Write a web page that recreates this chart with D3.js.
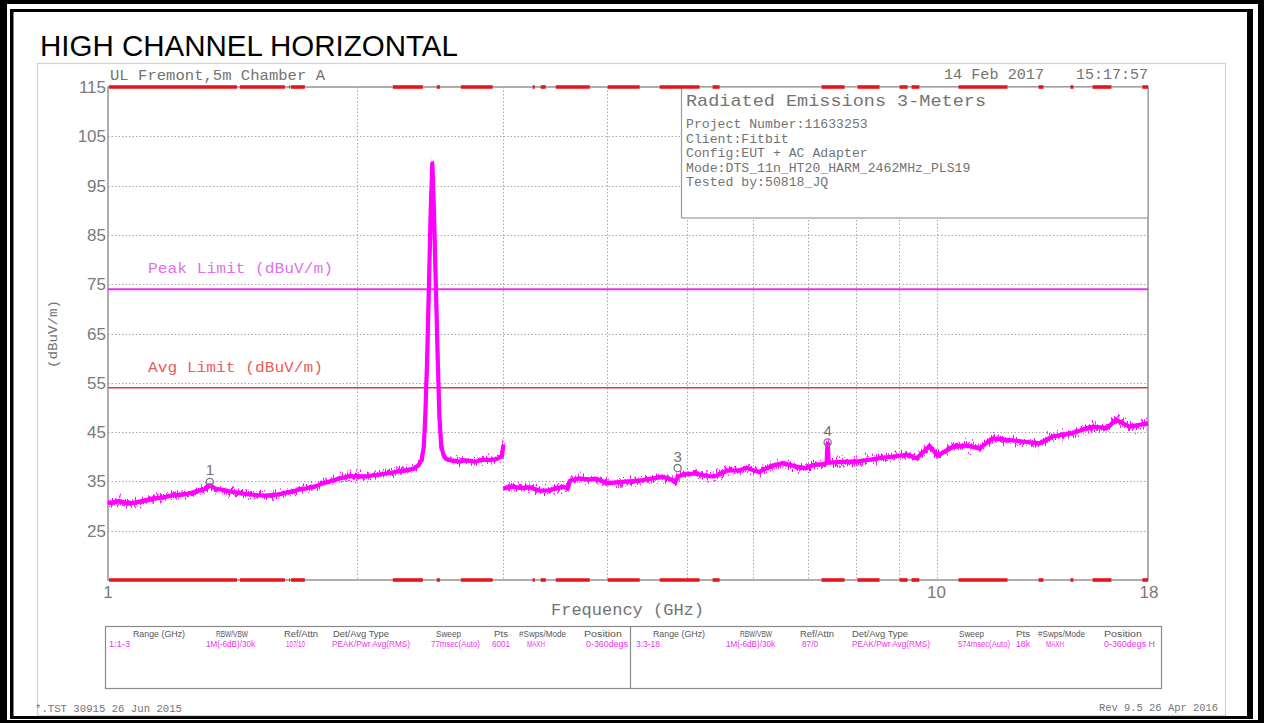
<!DOCTYPE html>
<html>
<head>
<meta charset="utf-8">
<script src="https://cdn.jsdelivr.net/npm/d3@7"></script>
<style>
  html, body { margin: 0; padding: 0; background: #fff; }
  svg { display: block; }
</style>
</head>
<body>
<svg id="chart" width="1264" height="723"></svg>
<script>
// ---- Labels ----
const titleText = "HIGH CHANNEL HORIZONTAL";
const siteLabel = "UL Fremont,5m Chamber A";
const dateLabel = "14 Feb 2017";
const timeLabel = "15:17:57";
const yAxisLabel = "(dBuV/m)";
const xAxisLabel = "Frequency (GHz)";
const footerLeft = "*.TST 30915 26 Jun 2015";
const footerRight = "Rev 9.5 26 Apr 2016";

// ---- Axes ----
const yTicks = [115, 105, 95, 85, 75, 65, 55, 45, 35, 25];
const yGrid = [105, 95, 85, 75, 65, 55, 45, 35, 25];
const xTickLabels = [1, 10, 18];
const xGrid = [2, 3, 4, 5, 6, 7, 8, 9, 10];

// ---- Limits (dBuV/m) ----
const peakLimit = 74;
const avgLimit = 54;
const peakLimitLabel = "Peak Limit (dBuV/m)";
const avgLimitLabel = "Avg Limit (dBuV/m)";

// ---- Sweep 1: 1-3 GHz (freq GHz, level dBuV/m) ----
const lowFreq = [1.000, 1.006, 1.03, 1.06, 1.093, 1.12, 1.146, 1.17, 1.198, 1.23, 1.256, 1.29, 1.31, 1.327,
  1.35, 1.376, 1.41, 1.443, 1.48, 1.512, 1.55, 1.581, 1.62, 1.658, 1.70, 1.738, 1.78, 1.817, 1.86, 1.905,
  1.95, 1.997, 2.04, 2.088, 2.14, 2.189, 2.24, 2.295, 2.34, 2.372, 2.392, 2.405, 2.415, 2.428, 2.440, 2.452,
  2.463, 2.474, 2.487, 2.500, 2.512, 2.525, 2.545, 2.565, 2.60, 2.658, 2.70, 2.772, 2.83, 2.889, 2.95, 2.99, 3.0];
const lowLevel = [30.8, 30.6, 31.0, 30.5, 30.9, 31.3, 31.6, 31.8, 32.2, 32.3, 32.6, 33.2, 33.4, 34.2,
  33.5, 33.3, 32.9, 32.6, 32.4, 32.2, 32.1, 32.2, 32.5, 32.9, 33.3, 33.6, 34.0, 34.6, 35.1, 35.6,
  36.0, 36.1, 36.0, 36.2, 36.5, 36.7, 37.0, 37.3, 37.6, 38.3, 39.5, 42.0, 48.0, 60.0, 75.0, 90.0,
  99.5, 90.0, 75.0, 60.0, 48.0, 42.0, 40.0, 39.5, 39.2, 39.0, 39.3, 39.0, 39.4, 39.3, 39.6, 40.2, 42.4];

// ---- Sweep 2: 3-18 GHz ----
const highFreq = [3.0, 3.012, 3.07, 3.141, 3.228, 3.319, 3.40, 3.480, 3.54, 3.589, 3.61, 3.629, 3.70, 3.80,
  3.890, 3.96, 3.999, 4.10, 4.262, 4.40, 4.544, 4.68, 4.802, 4.84, 4.870, 4.993, 5.12, 5.25, 5.368, 5.45,
  5.581, 5.787, 5.900, 6.114, 6.168, 6.35, 6.520, 6.778, 6.968, 7.084, 7.30, 7.368, 7.385, 7.395, 7.41,
  7.789, 8.008, 8.30, 8.537, 8.90, 9.201, 9.460, 9.65, 9.808, 10.03, 10.45, 10.85, 11.27, 11.68, 12.20,
  12.70, 13.31, 13.80, 14.59, 15.43, 16.04, 16.49, 17.09, 17.58, 18.0];
const highLevel = [33.5, 33.6, 34.0, 33.7, 33.8, 33.1, 33.2, 33.6, 33.9, 33.6, 35.1, 35.3, 35.6, 35.4,
  35.5, 35.0, 34.6, 34.8, 35.0, 35.2, 35.6, 35.9, 35.3, 34.8, 36.0, 36.5, 36.6, 36.2, 36.0, 36.3,
  37.2, 37.3, 37.7, 36.9, 37.3, 38.2, 38.7, 38.0, 37.7, 38.3, 38.5, 38.7, 42.6, 42.6, 38.8,
  39.0, 39.0, 39.4, 39.7, 40.1, 40.4, 39.7, 41.0, 42.2, 40.2, 42.0, 42.3, 41.7, 43.7, 43.4,
  43.1, 42.7, 44.1, 44.8, 46.1, 45.8, 47.5, 46.1, 46.5, 46.8];

// ---- Markers ----
const markerIds = ["1", "3", "4"];
const markerFreq = [1.327, 4.870, 7.389];
const markerLevel = [34.9, 37.7, 42.9];

// ---- Sweep segment bars along the top and bottom edges (GHz) ----
const sweepBandStart = [1.003, 1.443, 1.654, 1.663, 2.207, 2.494, 2.666, 3.256, 3.329, 3.471, 4.010, 4.633,
  5.367, 7.265, 8.029, 9.024, 9.329, 10.63, 13.28, 14.51, 15.43, 17.72];
const sweepBandEnd = [1.431, 1.635, 1.658, 1.728, 2.399, 2.515, 2.913, 3.274, 3.376, 3.815, 4.383, 5.177,
  5.473, 7.745, 8.535, 9.227, 9.534, 12.18, 13.46, 14.63, 16.26, 18.0];

// ---- Info box ----
const infoTitle = "Radiated Emissions 3-Meters";
const infoLines = ["Project Number:11633253", "Client:Fitbit", "Config:EUT + AC Adapter",
  "Mode:DTS_11n_HT20_HARM_2462MHz_PLS19", "Tested by:50818_JQ"];

// ---- Settings table ----
const tableHeaders = ["Range (GHz)", "RBW/VBW", "Ref/Attn", "Det/Avg Type", "Sweep", "Pts", "#Swps/Mode", "Position"];
const tableRowA = ["1:1-3", "1M(-6dB)/30k", "107/10", "PEAK/Pwr Avg(RMS)", "77msec(Auto)", "6001", "MAXH", "0-360degs"];
const tableRowB = ["3:3-18", "1M(-6dB)/30k", "87/0", "PEAK/Pwr Avg(RMS)", "574msec(Auto)", "18k", "MAXH", "0-360degs H"];

// =================== drawing ===================
const svg = d3.select("#chart");
const HP = "'Liberation Mono', 'DejaVu Sans Mono', monospace";
const SANS = "'Liberation Sans', Arial, sans-serif";
const GREY = "#737373";

const x = d3.scaleLog().domain([1, 18]).range([108, 1148]);
const y = d3.scaleLinear().domain([15, 115]).range([580, 87]);

// Noise texture for the swept trace (vertical jitter only)
const defs = svg.append("defs");
function jitterFilter(id, freq, seed, scale) {
  const f = defs.append("filter").attr("id", id)
    .attr("filterUnits", "userSpaceOnUse")
    .attr("x", 100).attr("y", 80).attr("width", 1060).attr("height", 510);
  f.append("feTurbulence").attr("type", "fractalNoise")
    .attr("baseFrequency", freq).attr("numOctaves", 2).attr("seed", seed).attr("result", "noise");
  f.append("feColorMatrix").attr("in", "noise").attr("type", "matrix")
    .attr("values", "0 0 0 0 0.5  1 0 0 0 0  0 0 0 0 0  0 0 0 0 1").attr("result", "map");
  f.append("feDisplacementMap").attr("in", "SourceGraphic").attr("in2", "map")
    .attr("scale", scale).attr("xChannelSelector", "R").attr("yChannelSelector", "G");
}
jitterFilter("fuzzA", "1.1 0.05", 7, 15);
jitterFilter("fuzzB", "1.4 0.08", 23, 22);

// Outer double frame
svg.append("rect").attr("x", 0).attr("y", 0).attr("width", 1264).attr("height", 723).attr("fill", "#000");
svg.append("rect").attr("x", 7).attr("y", 4).attr("width", 1251).attr("height", 716).attr("fill", "#fff");
svg.append("rect").attr("x", 10).attr("y", 9).attr("width", 1243).attr("height", 710).attr("fill", "#000");
svg.append("rect").attr("x", 13.5).attr("y", 12).attr("width", 1233.5).attr("height", 704).attr("fill", "#fff");

// Title
svg.append("text").attr("x", 40).attr("y", 55.5)
  .attr("font-family", SANS).attr("font-size", 29.5).attr("fill", "#000")
  .text(titleText);

// Plot image frame
svg.append("rect").attr("x", 37.5).attr("y", 63.5).attr("width", 1188).attr("height", 652)
  .attr("fill", "#fff").attr("stroke", "#d0d0d0").attr("stroke-width", 1.2);

function hpText(txt, px, py, size, len, color, anchor) {
  const t = svg.append("text").attr("x", px).attr("y", py)
    .attr("font-family", HP).attr("font-size", size).attr("fill", color)
    .attr("text-anchor", anchor || "start").text(txt);
  if (len) t.attr("textLength", len).attr("lengthAdjust", "spacingAndGlyphs");
  return t;
}

// Header texts
hpText(siteLabel, 110, 80, 14, 215, GREY);
hpText(dateLabel, 944, 79, 14, 100, GREY);
hpText(timeLabel, 1076, 79, 14, 72, GREY);

// Grid
const grid = svg.append("g").attr("stroke", "#a8a8a8").attr("stroke-width", 1)
  .attr("stroke-dasharray", "1.5,2");
grid.selectAll("line.v").data(xGrid).join("line")
  .attr("x1", d => Math.round(x(d)) + 0.5).attr("x2", d => Math.round(x(d)) + 0.5)
  .attr("y1", y(115)).attr("y2", y(15));
grid.selectAll("line.h").data(yGrid).join("line")
  .attr("x1", x(1)).attr("x2", x(18))
  .attr("y1", d => Math.round(y(d)) + 0.5).attr("y2", d => Math.round(y(d)) + 0.5);

// Plot border
svg.append("rect").attr("x", x(1)).attr("y", y(115)).attr("width", x(18) - x(1)).attr("height", y(15) - y(115))
  .attr("fill", "none").attr("stroke", "#9a9a9a").attr("stroke-width", 1.6);

// Y tick labels
svg.append("g").selectAll("text").data(yTicks).join("text")
  .attr("x", 106).attr("y", d => y(d) + 6)
  .attr("text-anchor", "end").attr("font-family", SANS).attr("font-size", 17)
  .attr("fill", "#7a7a7a").text(d => d);

// X tick labels
svg.append("g").selectAll("text").data(xTickLabels).join("text")
  .attr("x", d => x(d) + (d === 18 ? 1 : 0)).attr("y", 598)
  .attr("text-anchor", "middle").attr("font-family", SANS).attr("font-size", 17)
  .attr("fill", "#7a7a7a").text(d => d);

// Axis titles
hpText(xAxisLabel, 551, 615, 16, 153, GREY);
svg.append("text").attr("transform", "translate(57,334) rotate(-90)")
  .attr("text-anchor", "middle").attr("font-family", HP).attr("font-size", 12)
  .attr("textLength", 68).attr("lengthAdjust", "spacingAndGlyphs")
  .attr("fill", GREY).text(yAxisLabel);

// Info box
svg.append("rect").attr("x", 681.5).attr("y", y(115)).attr("width", x(18) - 681.5).attr("height", 218 - y(115))
  .attr("fill", "#fff").attr("stroke", "#9a9a9a").attr("stroke-width", 1.2);
hpText(infoTitle, 686, 106, 17, 300, GREY);
infoLines.forEach((s, i) => hpText(s, 686, 128 + i * 14.5, 12.5, s.length * 7.9, GREY));

// Limit lines
svg.append("line").attr("x1", x(1)).attr("x2", x(18)).attr("y1", y(peakLimit)).attr("y2", y(peakLimit))
  .attr("stroke", "#f030f0").attr("stroke-width", 2);
svg.append("line").attr("x1", x(1)).attr("x2", x(18)).attr("y1", y(avgLimit)).attr("y2", y(avgLimit))
  .attr("stroke", "#e23b3b").attr("stroke-width", 1.6);
hpText(peakLimitLabel, 148, y(peakLimit) - 16, 14, 185, "#e070e8");
hpText(avgLimitLabel, 148, y(avgLimit) - 16, 14, 175, "#ea5c5c");

// Sweep segment bars
const bands = sweepBandStart.map((s, i) => [s, sweepBandEnd[i]]);
[115, 15].forEach(lv => {
  svg.append("g").selectAll("line").data(bands).join("line")
    .attr("x1", d => x(d[0])).attr("x2", d => x(d[1]))
    .attr("y1", y(lv)).attr("y2", y(lv))
    .attr("stroke", "#e8141b").attr("stroke-width", 3.6);
});

// Traces: a solid core band plus two jittered passes for the noise texture
const line = d3.line().x(d => x(d[0])).y(d => y(d[1]));
const sweeps = [[lowFreq, lowLevel], [highFreq, highLevel]].map(([f, l]) => f.map((v, i) => [v, l[i]]));
const passes = [
  { filter: null, width: 4.2, opacity: 1 },
  { filter: "url(#fuzzA)", width: 3, opacity: 1 },
  { filter: "url(#fuzzB)", width: 1.6, opacity: 0.9 }
];
passes.forEach(p => {
  const g = svg.append("g");
  if (p.filter) g.attr("filter", p.filter);
  sweeps.forEach(pts => {
    g.append("path").datum(pts).attr("d", line)
      .attr("fill", "none").attr("stroke", "#ff00ff").attr("stroke-width", p.width)
      .attr("stroke-opacity", p.opacity).attr("stroke-linejoin", "round");
  });
});

// Markers
const mk = svg.append("g");
markerIds.forEach((id, i) => {
  const cx = x(markerFreq[i]), cy = y(markerLevel[i]);
  mk.append("circle").attr("cx", cx).attr("cy", cy).attr("r", 3.6)
    .attr("fill", "none").attr("stroke", "#7a7a7a").attr("stroke-width", 1.3);
  mk.append("text").attr("x", cx).attr("y", cy - 6.5).attr("text-anchor", "middle")
    .attr("font-family", SANS).attr("font-size", 15).attr("fill", GREY).text(id);
});

// Settings table
svg.append("rect").attr("x", 105.5).attr("y", 626.5).attr("width", 1056).attr("height", 62)
  .attr("fill", "none").attr("stroke", "#8a8a8a").attr("stroke-width", 1.2);
svg.append("line").attr("x1", 630.5).attr("x2", 630.5).attr("y1", 626.5).attr("y2", 688.5)
  .attr("stroke", "#8a8a8a").attr("stroke-width", 1.2);

const headX = [[133, 216, 284, 333, 436, 494, 519, 584], [653, 740, 800, 852, 959, 1016, 1038, 1104]];
const headW = [52, 32, 34, 56, 25, 14, 47, 38];
const valX = [[109, 206, 286, 332, 431, 492, 527, 586], [636, 726, 802, 852, 958, 1016, 1046, 1104]];
const valW = [[21, 49, 19, 78, 49, 18, 18, 42], [24, 49, 16, 78, 52, 14, 18, 51]];
const NARROW = "'Liberation Sans Narrow', 'Liberation Sans', Arial, sans-serif";
[tableRowA, tableRowB].forEach((row, r) => {
  tableHeaders.forEach((h, c) => {
    svg.append("text").attr("x", headX[r][c]).attr("y", 636.5)
      .attr("font-family", NARROW).attr("font-size", 8.5).attr("fill", "#555")
      .attr("textLength", headW[c]).attr("lengthAdjust", "spacingAndGlyphs").text(h);
    svg.append("text").attr("x", valX[r][c]).attr("y", 647)
      .attr("font-family", NARROW).attr("font-size", 8.5).attr("fill", "#ee30ee")
      .attr("textLength", valW[r][c]).attr("lengthAdjust", "spacingAndGlyphs").text(row[c]);
  });
});

// Footer
hpText(footerLeft, 35, 712, 11, 147, GREY);
hpText(footerRight, 1099, 711, 11, 119, GREY);
</script>
</body>
</html>
